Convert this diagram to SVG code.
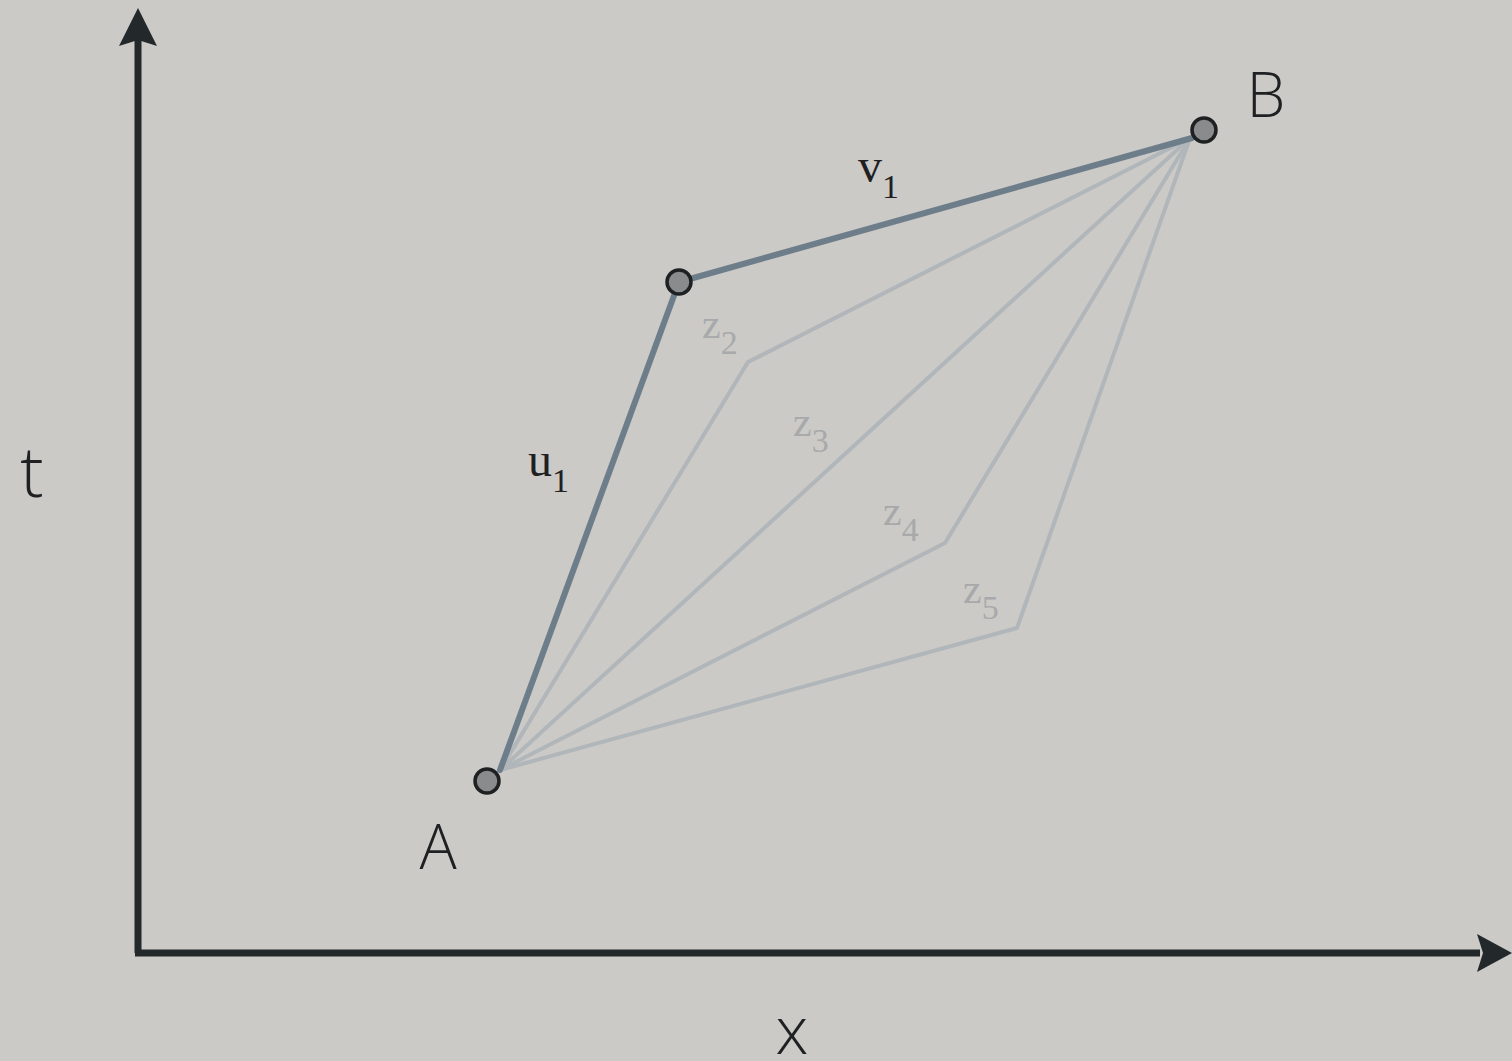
<svg xmlns="http://www.w3.org/2000/svg" width="1512" height="1061" viewBox="0 0 1512 1061">
<style>
.axis{stroke:#23282b;stroke-width:7;fill:none}
.main{stroke:#6d7d8a;stroke-width:6;fill:none;stroke-linejoin:round;stroke-linecap:round}
.faint{stroke:#b0b6ba;stroke-width:4;fill:none;stroke-linejoin:round}
.pt{fill:#8a8b8d;stroke:#1e2022;stroke-width:3.5}
.sans{font-family:'Open Sans','DejaVu Sans',sans-serif;font-weight:300;fill:#1e2022}
.serif{font-family:'Liberation Serif','Times New Roman',serif}
.dark{fill:#1e2022}
.light{fill:#a7a9aa}
</style>
<rect width="1512" height="1061" fill="#cbcac6"/>
<g id="connectors">
<path class="faint" d="M500 770 L748 362 L1190 138"/>
<path class="faint" d="M500 770 L1190 138"/>
<path class="faint" d="M500 770 L945 543 L1190 138"/>
<path class="faint" d="M500 770 L1017 628 L1190 138"/>
<path class="main" d="M500 770 L679 282 L1192 138"/>
</g>
<g id="axes">
<path class="axis" d="M138 953 V40 M135 953 H1480"/>
<polygon points="138,8 157,46 138,40 119,46" fill="#23282b"/>
<polygon points="1512,953 1477,972 1483,953 1477,934" fill="#23282b"/>
</g>
<g id="A"><circle class="pt" cx="487" cy="781" r="12"/><text class="sans" x="438" y="869" font-size="62" text-anchor="middle">A</text></g>
<g id="P"><circle class="pt" cx="679" cy="282" r="12"/></g>
<g id="B"><circle class="pt" cx="1204" cy="130" r="12"/><text class="sans" x="1266" y="117" font-size="62" text-anchor="middle">B</text></g>
<g id="labels">
<text class="sans" x="32" y="497" font-size="70" text-anchor="middle">t</text>
<text class="sans" x="792" y="1054" font-size="66" text-anchor="middle">x</text>
<text class="serif dark" x="858" y="182" font-size="48">v<tspan font-size="34" dy="16">1</tspan></text>
<text class="serif dark" x="528" y="476" font-size="48">u<tspan font-size="34" dy="16">1</tspan></text>
<text class="serif light" x="702" y="338" font-size="42">z<tspan font-size="34" dy="16">2</tspan></text>
<text class="serif light" x="793" y="436" font-size="42">z<tspan font-size="34" dy="16">3</tspan></text>
<text class="serif light" x="883" y="525" font-size="42">z<tspan font-size="34" dy="16">4</tspan></text>
<text class="serif light" x="963" y="603" font-size="42">z<tspan font-size="34" dy="16">5</tspan></text>
</g>
</svg>
